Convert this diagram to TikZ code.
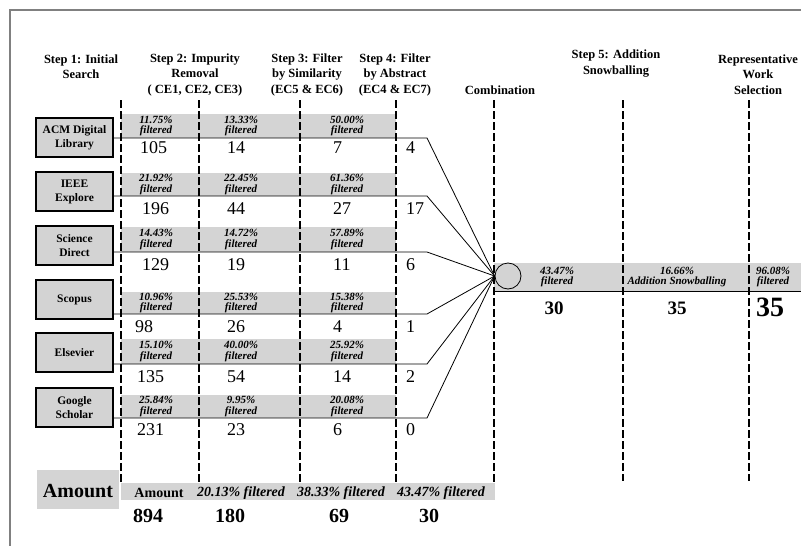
\documentclass[tikz,border=0pt]{standalone}
\usepackage{fontspec}
\setmainfont{Liberation Serif}
\definecolor{boxgray}{RGB}{211,211,211}
\definecolor{bandgray}{RGB}{212,212,212}
\definecolor{framegray}{RGB}{128,128,128}
\begin{document}
\begin{tikzpicture}[x=1pt,y=-1pt,
  src/.style={draw=black, line width=1.6pt, fill=boxgray, minimum width=77pt, minimum height=39pt, inner sep=0pt, align=center, font=\fontsize{11.5}{14}\selectfont\bfseries},
  pct/.style={inner sep=0pt, align=center, font=\fontsize{11}{10.5}\selectfont\bfseries\itshape},
  num/.style={inner sep=0pt, anchor=west, font=\fontsize{18}{18}\selectfont},
  bnum/.style={inner sep=0pt, font=\fontsize{19}{19}\selectfont\bfseries},
  hdr/.style={inner sep=0pt, align=center, font=\fontsize{12.5}{15.5}\selectfont\bfseries},
  band/.style={fill=bandgray, draw=none},
  stepline/.style={draw=black, line width=1.6pt, dash pattern=on 8pt off 3pt},
  conn/.style={draw=black, line width=0.8pt},
  bot/.style={inner sep=0pt, font=\fontsize{14}{14}\selectfont\bfseries\itshape}
]
\useasboundingbox (0,0) rectangle (801,546);
% frame
\draw[framegray, line width=1.2pt] (801,10) -- (10,10) -- (10,546);

% headers
\node[hdr] (h1) at (81,66.5) {Step 1: Initial\\Search};
\node[hdr] (h2) at (195,74.5) {Step 2: Impurity\\Removal\\( CE1, CE2, CE3)};
\node[hdr] (h3) at (307,74.5) {Step 3: Filter\\by Similarity\\(EC5 \& EC6)};
\node[hdr] (h4) at (395,74.5) {Step 4: Filter\\by Abstract\\(EC4 \& EC7)};
\node[hdr] (h5) at (500,90) {Combination};
\node[hdr] (h6) at (616,63.5) {Step 5: Addition\\Snowballing};
\node[hdr] (h7) at (758,74.5) {Representative\\Work\\Selection};

% bands of rows (top, line)
\foreach \t/\l in {114/138, 173/196, 227/252, 292/314, 339/364, 395/418}{
  \fill[bandgray] (121,\t) rectangle (396,\l);
}
% combination band
\fill[bandgray] (494,263) rectangle (801,291);
% bottom bars
\fill[bandgray] (37,470) rectangle (119,509);
\fill[bandgray] (121,483) rectangle (495,500);

% dashed step lines
\foreach \x in {121,199,300,396,494}{
  \draw[stepline] (\x,100) -- (\x,483);
}
\foreach \x in {623,749}{
  \draw[stepline] (\x,100) -- (\x,481);
}

% sources
\node[src] (s1) at (74.5,137.5) {ACM Digital\\Library};
\node[src] (s2) at (74.5,191.5) {IEEE\\Explore};
\node[src] (s3) at (74.5,245.5) {Science\\Direct};
\node[src] (s4) at (74.5,299.5) {Scopus};
\node[src] (s5) at (74.5,352.5) {Elsevier};
\node[src] (s6) at (74.5,407.5) {Google\\Scholar};

% combination circle
\node[circle, draw=black, line width=0.8pt, fill=boxgray, minimum size=26pt, inner sep=0pt] (circ) at (508,276) {};

% connectors
\coordinate (e1) at (427,138);
\coordinate (e2) at (427,196);
\coordinate (e3) at (427,252);
\coordinate (e4) at (427,314);
\coordinate (e5) at (427,364);
\coordinate (e6) at (427,418);
\foreach \i in {1,...,6}{
  \draw[conn] (s\i.east |- e\i) -- (e\i) -- (circ.west);
}
\coordinate (ce) at (801,291);
\draw[conn, line width=1pt] (circ.west |- ce) -- (ce);

% percentages per row
\foreach \y/\a/\b/\c [count=\r] in {126/11.75/13.33/50.00, 184.5/21.92/22.45/61.36, 239.5/14.43/14.72/57.89, 303/10.96/25.53/15.38, 351.5/15.10/40.00/25.92, 406.5/25.84/9.95/20.08}{
  \node[pct] (pa\r) at (156,\y) {\a\%\\filtered};
  \node[pct] (pb\r) at (241,\y) {\b\%\\filtered};
  \node[pct] (pc\r) at (347,\y) {\c\%\\filtered};
}

% numbers per row
\foreach \y/\xa/\a/\b/\c/\d [count=\r] in {148/140/105/14/7/4, 209/142/196/44/27/17, 265/142/129/19/11/6, 327/135/98/26/4/1, 377/137/135/54/14/2, 430/137/231/23/6/0}{
  \node[num] (na\r) at (\xa,\y) {\a};
  \node[num] (nb\r) at (227,\y) {\b};
  \node[num] (nc\r) at (333,\y) {\c};
  \node[num] (nd\r) at (406,\y) {\d};
}

% combination row texts
\node[pct] (cp1) at (557,277) {43.47\%\\filtered};
\node[pct] (cp2) at (677,277) {16.66\%\\Addition Snowballing};
\node[pct] (cp3) at (773,277) {96.08\%\\filtered};
\node[bnum] (cn1) at (554,308) {30};
\node[bnum] (cn2) at (677,308) {35};
\node[inner sep=0pt, font=\fontsize{28}{28}\selectfont\bfseries] (cn3) at (770,307) {35};

% bottom
\node[inner sep=0pt, font=\fontsize{20}{20}\selectfont\bfseries] (am) at (78,491) {Amount};
\node[inner sep=0pt, font=\fontsize{14}{14}\selectfont\bfseries] (b0) at (159,493) {Amount};
\node[bot] (b1) at (241,493) {20.13\% filtered};
\node[bot] (b2) at (341,493) {38.33\% filtered};
\node[bot] (b3) at (441,493) {43.47\% filtered};
\node[bnum, font=\fontsize{20}{20}\selectfont\bfseries] (t0) at (148,516) {894};
\node[bnum, font=\fontsize{20}{20}\selectfont\bfseries] (t1) at (230,516) {180};
\node[bnum, font=\fontsize{20}{20}\selectfont\bfseries] (t2) at (339,516) {69};
\node[bnum, font=\fontsize{20}{20}\selectfont\bfseries] (t3) at (429,516) {30};
\end{tikzpicture}
\end{document}
